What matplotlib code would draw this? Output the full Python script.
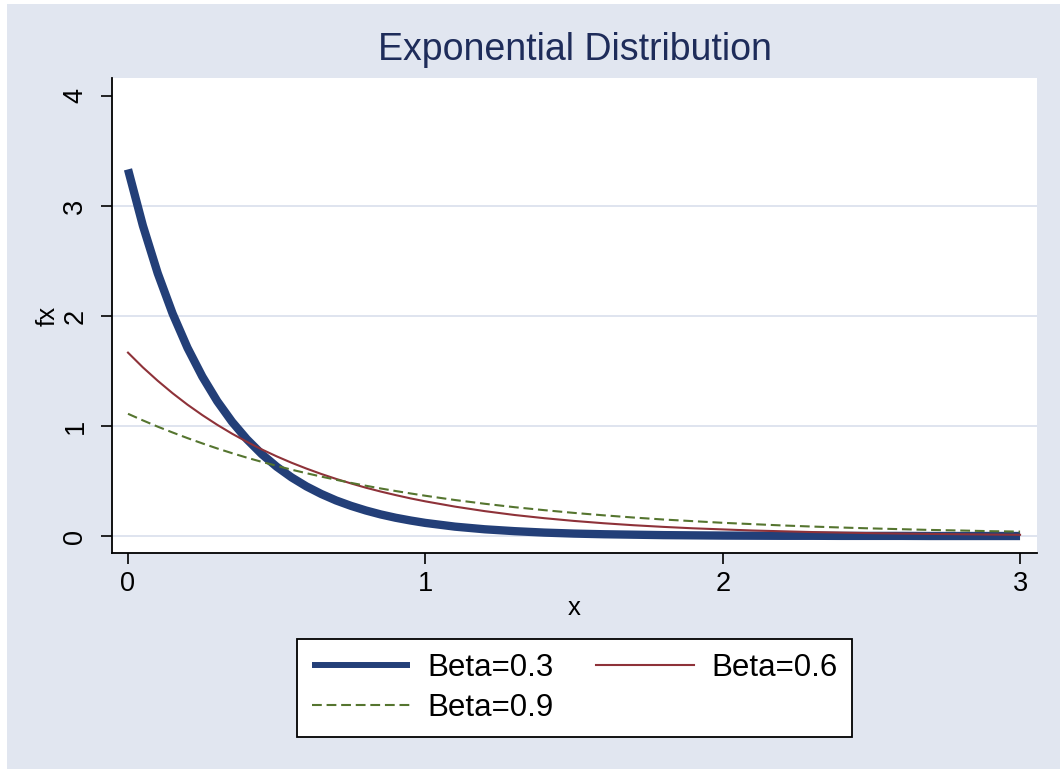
import matplotlib
matplotlib.use("Agg")
import matplotlib.pyplot as plt
from matplotlib.patches import Rectangle

# ---- data ----
x_values = [0.00, 0.05, 0.10, 0.15, 0.20, 0.25, 0.30, 0.35, 0.40, 0.45, 0.50,
            0.55, 0.60, 0.65, 0.70, 0.75, 0.80, 0.85, 0.90, 0.95, 1.00,
            1.1, 1.2, 1.3, 1.4, 1.5, 1.6, 1.7, 1.8, 1.9, 2.0,
            2.1, 2.2, 2.3, 2.4, 2.5, 2.6, 2.7, 2.8, 2.9, 3.0]
fx_beta03 = [3.333, 2.822, 2.388, 2.022, 1.711, 1.449, 1.226, 1.038, 0.879, 0.744, 0.630,
             0.533, 0.451, 0.382, 0.323, 0.274, 0.232, 0.196, 0.166, 0.141, 0.119,
             0.085, 0.061, 0.044, 0.031, 0.022, 0.016, 0.012, 0.008, 0.006, 0.004,
             0.003, 0.002, 0.002, 0.001, 0.001, 0.001, 0.000, 0.000, 0.000, 0.000]
fx_beta06 = [1.667, 1.533, 1.411, 1.298, 1.194, 1.099, 1.011, 0.930, 0.856, 0.787, 0.724,
             0.666, 0.613, 0.564, 0.519, 0.478, 0.439, 0.404, 0.372, 0.342, 0.315,
             0.267, 0.226, 0.191, 0.162, 0.137, 0.116, 0.098, 0.083, 0.070, 0.060,
             0.050, 0.043, 0.036, 0.031, 0.026, 0.022, 0.019, 0.016, 0.013, 0.011]
fx_beta09 = [1.111, 1.051, 0.994, 0.941, 0.890, 0.842, 0.796, 0.753, 0.712, 0.674, 0.638,
             0.603, 0.571, 0.540, 0.511, 0.483, 0.457, 0.432, 0.409, 0.387, 0.366,
             0.327, 0.293, 0.262, 0.235, 0.210, 0.188, 0.168, 0.150, 0.135, 0.120,
             0.108, 0.096, 0.086, 0.077, 0.069, 0.062, 0.055, 0.050, 0.044, 0.040]
series_labels = ["Beta=0.3", "Beta=0.6", "Beta=0.9"]
x_ticks = [0, 1, 2, 3]
y_ticks = [0, 1, 2, 3, 4]
grid_levels = [0, 1, 2, 3]

plt.rcParams['font.family'] = ['Liberation Sans', 'DejaVu Sans']

W, H = 1060, 769
fig = plt.figure(figsize=(W / 100, H / 100), dpi=100, facecolor='white')
bg = '#E1E6F0'
fig.patches.append(Rectangle((7 / W, 0), 1 - 7 / W, 1 - 4 / H, transform=fig.transFigure,
                             facecolor=bg, edgecolor='none', zorder=-10))

L, R, T, B = 112, 1037, 78, 553
ax = fig.add_axes([L / W, 1 - B / H, (R - L) / W, (B - T) / H])
ax.set_facecolor('white')

for g in grid_levels:
    ax.axhline(g, color='#DCE2EE', lw=1.3, zorder=0)

ax.plot(x_values, fx_beta03, color='#233F78', lw=6.0, solid_capstyle='butt', label=series_labels[0], zorder=3)
ax.plot(x_values, fx_beta06, color='#8E3239', lw=1.5, label=series_labels[1], zorder=4)
ax.plot(x_values, fx_beta09, color='#55752F', lw=1.5, dashes=(4.7, 2.3), label=series_labels[2], zorder=5)

ax.set_xlim(-0.0538, 3.057)
ax.set_ylim(-0.1545, 4.1636)
ax.set_xticks(x_ticks)
ax.set_yticks(y_ticks)
ax.set_xticklabels([str(v) for v in x_ticks])
ax.set_yticklabels([str(v) for v in y_ticks], rotation=90, va='center')
ax.tick_params(axis='both', which='major', length=8, width=1.2, color='black',
               labelsize=19.5, pad=5)
ax.tick_params(axis='y', pad=9)
for s in ['top', 'right']:
    ax.spines[s].set_visible(False)
for s in ['left', 'bottom']:
    ax.spines[s].set_linewidth(1.3)
    ax.spines[s].set_color('black')

fig.text((L + R) / 2 / W, 1 - 50 / H, "Exponential Distribution", ha='center', va='center',
         fontsize=27, color='#1E2C5A')
fig.text((L + R) / 2 / W, 1 - 608 / H, "x", ha='center', va='center', fontsize=18.5)
fig.text(48 / W, 1 - 316 / H, "fx", ha='center', va='center', rotation=90, fontsize=18.5)

h, l = ax.get_legend_handles_labels()
order = [0, 2, 1]
leg = fig.legend([h[i] for i in order], [l[i] for i in order], ncol=2,
                 loc='center', bbox_to_anchor=((296 + 853) / 2 / W, 1 - 688 / H),
                 fontsize=22.5, frameon=True, fancybox=False, framealpha=1,
                 edgecolor='black', handlelength=3.15, handletextpad=0.55,
                 columnspacing=1.35, borderpad=0.45, labelspacing=0.32)
leg.get_frame().set_linewidth(1.3)
leg.get_lines()[0].set_linewidth(4.3)

fig.savefig('out.png', dpi=100, facecolor='white')
